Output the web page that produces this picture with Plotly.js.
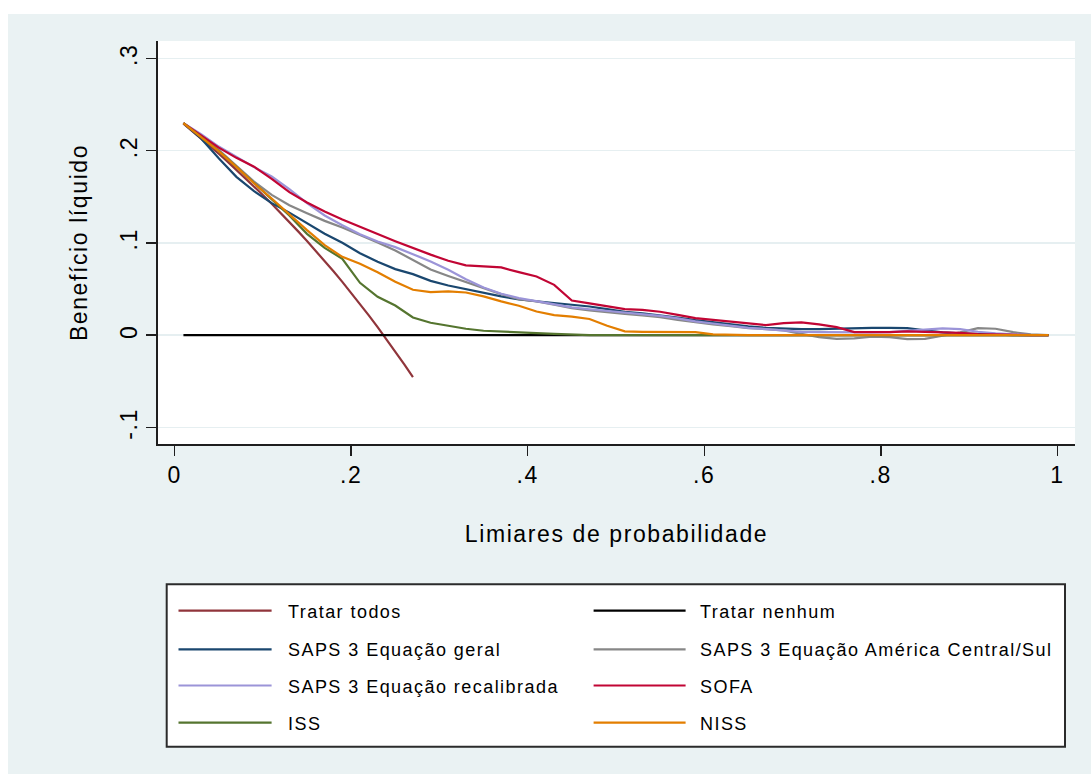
<!DOCTYPE html>
<html><head><meta charset="utf-8">
<script src="https://cdn.plot.ly/plotly-3.0.1.min.js"></script>
<style>
html,body{margin:0;padding:0;background:#ffffff;}
#chart{position:absolute;left:8px;top:14px;width:1083px;height:760px;}
#chart text{letter-spacing:1.6px;}
#chart .annotation text{letter-spacing:1.45px;}
</style></head><body><div id="chart"></div>
<script>
// ---- data ----
const limiares = [0.01,0.03,0.05,0.07,0.09,0.11,0.13,0.15,0.17,0.19,0.21,0.23,0.25,0.27,0.29,0.31,0.33,0.35,0.37,0.39,0.41,0.43,0.45,0.47,0.49,0.51,0.53,0.55,0.57,0.59,0.61,0.63,0.65,0.67,0.69,0.71,0.73,0.75,0.77,0.79,0.81,0.83,0.85,0.87,0.89,0.91,0.93,0.95,0.97,0.99];
const limiaresTodos = [0.01,0.02,0.03,0.04,0.05,0.06,0.07,0.08,0.09,0.10,0.11,0.12,0.13,0.14,0.15,0.16,0.17,0.18,0.19,0.20,0.21,0.22,0.23,0.24,0.25,0.26,0.27];
const tratarTodos = [0.2290,0.2211,0.2131,0.2049,0.1965,0.1880,0.1792,0.1703,0.1612,0.1519,0.1424,0.1326,0.1226,0.1124,0.1020,0.0913,0.0804,0.0691,0.0577,0.0459,0.0338,0.0214,0.0087,-0.0043,-0.0177,-0.0315,-0.0456];
const tratarNenhum = [0,0,0,0,0,0,0,0,0,0,0,0,0,0,0,0,0,0,0,0,0,0,0,0,0,0,0,0,0,0,0,0,0,0,0,0,0,0,0,0,0,0,0,0,0,0,0,0,0,0];
const sapsGeral = [0.2296,0.2131,0.1917,0.1715,0.1560,0.1430,0.1327,0.1213,0.1099,0.1000,0.0888,0.0794,0.0715,0.0661,0.0588,0.0538,0.0498,0.0455,0.0419,0.0386,0.0368,0.0347,0.0325,0.0310,0.0282,0.0253,0.0235,0.0217,0.0191,0.0162,0.0137,0.0116,0.0094,0.0079,0.0069,0.0065,0.0065,0.0072,0.0076,0.0079,0.0079,0.0076,0.0051,0.0029,0.0018,0.0011,0.0005,0,0,0];
const sapsAmerica = [0.2296,0.2152,0.2007,0.1834,0.1664,0.1520,0.1408,0.1321,0.1238,0.1166,0.1087,0.1004,0.0917,0.0816,0.0710,0.0640,0.0574,0.0509,0.0444,0.0390,0.0365,0.0329,0.0292,0.0267,0.0253,0.0231,0.0213,0.0195,0.0166,0.0137,0.0116,0.0097,0.0076,0.0065,0.0051,0.0014,-0.0022,-0.0040,-0.0036,-0.0018,-0.0022,-0.0043,-0.0040,-0.0007,0.0029,0.0076,0.0069,0.0032,0.0007,0];
const sapsRecal = [0.2296,0.2177,0.2043,0.1928,0.1820,0.1718,0.1581,0.1430,0.1296,0.1191,0.1094,0.1014,0.0953,0.0877,0.0798,0.0708,0.0606,0.0516,0.0448,0.0401,0.0365,0.0329,0.0300,0.0280,0.0264,0.0245,0.0227,0.0209,0.0181,0.0148,0.0126,0.0101,0.0079,0.0065,0.0051,0.0036,0.0032,0.0029,0.0029,0.0029,0.0032,0.0047,0.0065,0.0072,0.0065,0.0036,0.0018,0.0005,0,0];
const sofa = [0.2296,0.2166,0.2032,0.1921,0.1825,0.1694,0.1549,0.1437,0.1339,0.1253,0.1171,0.1095,0.1018,0.0942,0.0872,0.0805,0.0755,0.0744,0.0733,0.0682,0.0635,0.0545,0.0375,0.0343,0.0314,0.0282,0.0274,0.0253,0.0220,0.0184,0.0166,0.0148,0.0123,0.0108,0.0130,0.0137,0.0116,0.0087,0.0032,0.0029,0.0032,0.0040,0.0036,0.0032,0.0025,0.0011,0.0005,0,0,0];
const iss = [0.2296,0.2144,0.1993,0.1823,0.1646,0.1473,0.1296,0.1097,0.0946,0.0827,0.0567,0.0415,0.0321,0.0191,0.0134,0.0101,0.0069,0.0047,0.0036,0.0029,0.0022,0.0014,0.0004,0,0,0,0,0,0,0,0,0,0,0,0,0,0,0,0,0,0,0,0,0,0,0,0,0,0,0];
const niss = [0.2296,0.2144,0.1993,0.1823,0.1646,0.1480,0.1303,0.1137,0.0975,0.0848,0.0773,0.0682,0.0578,0.0491,0.0466,0.0473,0.0462,0.0419,0.0365,0.0318,0.0256,0.0217,0.0200,0.0175,0.0101,0.0040,0.0036,0.0036,0.0036,0.0032,0.0007,0,0,0,0,0,0,0,0,0,0,0,0,0,0,0,0,0,0,0];

const nomes = ["Tratar todos","Tratar nenhum","SAPS 3 Equação geral","SAPS 3 Equação América Central/Sul","SAPS 3 Equação recalibrada","SOFA","ISS","NISS"];
const cores = ["#90353b","#000000","#1a476f","#878787","#9b94d8","#c10534","#55752f","#e37e00"];
const xTickVals = [0,0.2,0.4,0.6,0.8,1];
const xTickText = ["0",".2",".4",".6",".8","1"];
const yTickVals = [-0.1,0,0.1,0.2,0.3];
const yTickText = ["-.1","0",".1",".2",".3"];

// ---- figure ----
const W = 1083, H = 760;
const M = {l:150, r:16, t:27, b:330};
const pw = W - M.l - M.r, ph = H - M.t - M.b;
const px2x = p => (p - M.l) / pw;
const px2y = p => 1 - (p - M.t) / ph;
const FONT = "Liberation Sans, Arial, Helvetica, sans-serif";

const series = [
  [limiaresTodos, tratarTodos],
  [limiares, tratarNenhum],
  [limiares, sapsGeral],
  [limiares, sapsAmerica],
  [limiares, sapsRecal],
  [limiares, sofa],
  [limiares, iss],
  [limiares, niss]
];
const traces = series.map((s, i) => ({
  type: "scatter", mode: "lines", x: s[0], y: s[1], name: nomes[i],
  line: {color: cores[i], width: 2.2}, hoverinfo: "x+y+name"
}));

// custom legend (Stata style, 2 columns)
const shapes = [{
  type: "rect", xref: "paper", yref: "paper",
  x0: px2x(158.7), x1: px2x(1057), y0: px2y(570.3), y1: px2y(732.7),
  line: {color: "#2b2b2b", width: 2}, fillcolor: "#ffffff", layer: "below"
}];
const annotations = [];
const rowsY = [596.7, 635.3, 671.5, 708.7];
const colLine = [[170.5, 263.6], [585.6, 677.6]];
const colText = [277.5, 689.5];
nomes.forEach((n, i) => {
  const r = Math.floor(i / 2), c = i % 2;
  shapes.push({type: "line", xref: "paper", yref: "paper",
    x0: px2x(colLine[c][0]), x1: px2x(colLine[c][1]), y0: px2y(rowsY[r]), y1: px2y(rowsY[r]),
    line: {color: cores[i], width: 2.2}});
  annotations.push({xref: "paper", yref: "paper", x: px2x(colText[c]), y: px2y(rowsY[r] + 1),
    xanchor: "left", yanchor: "middle", align: "left", showarrow: false, text: n,
    font: {family: FONT, size: 18, color: "#000"}});
});

const layout = {
  width: W, height: H, margin: M,
  paper_bgcolor: "#eaf2f3", plot_bgcolor: "#ffffff",
  font: {family: FONT, size: 23, color: "#000"},
  showlegend: false,
  xaxis: {
    range: [-0.0188, 1.0200], tickvals: xTickVals, ticktext: xTickText,
    showline: true, linecolor: "#1e1e1e", linewidth: 1.6, mirror: false,
    ticks: "outside", ticklen: 10, tickwidth: 1.5, tickcolor: "#1e1e1e",
    showgrid: false, zeroline: false, tickfont: {size: 23},
    title: {text: "Limiares de probabilidade", font: {size: 23}, standoff: 38}
  },
  yaxis: {
    range: [-0.118, 0.3187], tickvals: yTickVals, ticktext: yTickText, tickangle: -90,
    showline: true, linecolor: "#1e1e1e", linewidth: 1.6, mirror: false,
    ticks: "outside", ticklen: 10, tickwidth: 1.5, tickcolor: "#1e1e1e",
    showgrid: true, gridcolor: "#e6eff1", gridwidth: 1.5, zeroline: false, tickfont: {size: 23},
    title: {text: "Benefício líquido", font: {size: 23}, standoff: 22}
  },
  shapes: shapes, annotations: annotations
};
Plotly.newPlot("chart", traces, layout, {displayModeBar: false, staticPlot: true});
</script></body></html>
